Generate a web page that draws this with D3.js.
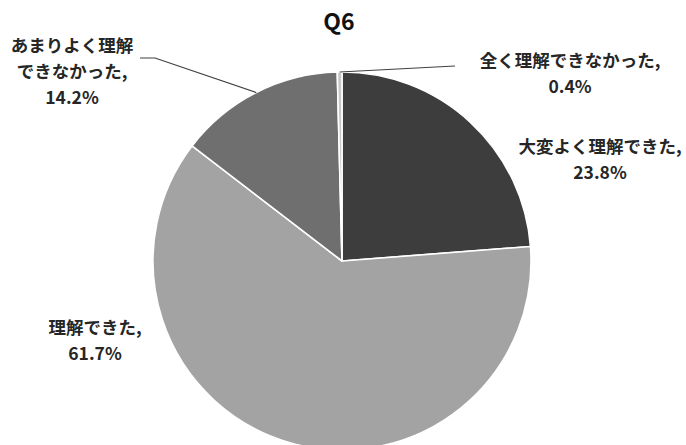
<!DOCTYPE html>
<html>
<head>
<meta charset="utf-8">
<script src="https://cdn.jsdelivr.net/npm/d3@7"></script>
<style>
  html, body { margin: 0; padding: 0; background: #ffffff; }
  svg { display: block; }
  text { font-family: "Noto Sans CJK JP", "Noto Sans", sans-serif; fill: #262626; }
</style>
</head>
<body>
<svg id="chart" width="686" height="445"></svg>
<script>
// Answers to Q6, clockwise from 12 o'clock
const categories = ["大変よく理解できた", "理解できた", "あまりよく理解できなかった", "全く理解できなかった"];
const values = [23.8, 61.7, 14.2, 0.4];
const sliceColors = ["#3d3d3d", "#a3a3a3", "#6f6f6f", "#c8c8c8"];
const title = "Q6";

// Label text lines per category (category line(s) + percentage)
const labelLines = [
  ["大変よく理解できた,"],
  ["理解できた,"],
  ["あまりよく理解", "できなかった,"],
  ["全く理解できなかった,"]
];

// Layout: label centre positions and leader-line elbows
const layout = {
  cx: 342, cy: 261, r: 189,
  labels: [
    { x: 600, y: 147, leader: null },
    { x: 95,  y: 328, leader: null },
    { x: 72,  y: 46,  leader: [[155, 58], [140, 58]] },
    { x: 570, y: 61,  leader: [[455, 66]] }
  ],
  lineGap: 26
};

const svg = d3.select("#chart");
svg.append("rect").attr("width", 686).attr("height", 445).attr("fill", "#ffffff");

const pie = d3.pie().sort(null).startAngle(0).endAngle(2 * Math.PI);
const arcs = pie(values);
const arc = d3.arc().innerRadius(0).outerRadius(layout.r);

const g = svg.append("g").attr("transform", `translate(${layout.cx},${layout.cy})`);
g.selectAll("path.slice")
  .data(arcs)
  .join("path")
  .attr("class", "slice")
  .attr("d", arc)
  .attr("fill", (d, i) => sliceColors[i])
  .attr("stroke", "#ffffff")
  .attr("stroke-width", 1.6)
  .attr("stroke-linejoin", "round");

// Leader lines from the slice's outer edge at its mid angle
const fmt = d => d3.format(".1f")(d) + "%";
arcs.forEach((d, i) => {
  const lab = layout.labels[i];
  if (!lab.leader) return;
  const mid = (d.startAngle + d.endAngle) / 2;
  const start = [layout.cx + layout.r * Math.sin(mid), layout.cy - layout.r * Math.cos(mid)];
  svg.append("path")
    .attr("d", d3.line()([start, ...lab.leader]))
    .attr("fill", "none")
    .attr("stroke", "#404040")
    .attr("stroke-width", 1.2);
});

// Data labels
arcs.forEach((d, i) => {
  const lab = layout.labels[i];
  const lines = [...labelLines[i], fmt(values[i])];
  const t = svg.append("text")
    .attr("text-anchor", "middle")
    .attr("font-size", 17.5)
    .attr("font-weight", 700);
  lines.forEach((s, k) => {
    t.append("tspan")
      .attr("x", lab.x)
      .attr("y", lab.y + k * layout.lineGap)
      .attr("dy", "0.35em")
      .text(s);
  });
});

// Title
svg.append("text")
  .attr("x", 339)
  .attr("y", 30)
  .attr("text-anchor", "middle")
  .attr("font-family", "'Noto Sans', sans-serif")
  .attr("font-size", 23)
  .attr("font-weight", 700)
  .style("fill", "#111")
  .text(title);
</script>
</body>
</html>
